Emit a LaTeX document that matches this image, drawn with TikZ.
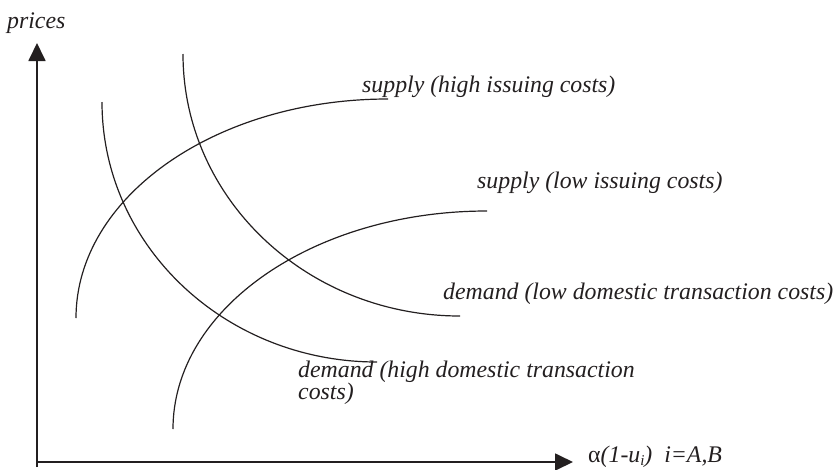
\documentclass[tikz,border=0pt]{standalone}
\usepackage{fontspec}
\setmainfont{Liberation Serif}
\usetikzlibrary{arrows.meta}
\definecolor{ink}{HTML}{231F20}
\begin{document}
\begin{tikzpicture}[x=1pt,y=-1pt,
  curve/.style={draw=ink,line width=1.2pt},
  axis/.style={draw=ink,line width=1.8pt,-{Triangle[length=18pt,width=17pt]}},
  lbl/.style={anchor=base west,inner sep=0pt,text=ink,font=\fontsize{23.8}{22}\selectfont\itshape}]
\useasboundingbox (0,0) rectangle (837,469);
% axes
\coordinate (o1) at (37,467);
\coordinate (ytip) at (37,43);
\coordinate (o2) at (36,462);
\coordinate (xtip) at (573,462);
\draw[axis] (o1) -- (ytip);
\draw[axis] (o2) -- (xtip);
% curve end points
\coordinate (sh1) at (76,318);  \coordinate (sh2) at (388,99);
\coordinate (sl1) at (173,429); \coordinate (sl2) at (487,211);
\coordinate (dh1) at (102,102); \coordinate (dh2) at (377,362);
\coordinate (dl1) at (183,54);  \coordinate (dl2) at (460,316);
% supply (high issuing costs)
\draw[curve] (sh1) .. controls (76,197) and (215.7,99) .. (sh2);
% supply (low issuing costs)
\draw[curve] (sl1) .. controls (173,308.5) and (313.6,211) .. (sl2);
% demand (high)
\draw[curve] (dh1) .. controls (102,245.6) and (225.1,362) .. (dh2);
% demand (low)
\draw[curve] (dl1) .. controls (183,198.7) and (307,316) .. (dl2);
% labels
\node[lbl] (lp) at (7,28) {prices};
\node[lbl] (lsh) at (362,92) {supply (high issuing costs)};
\node[lbl] (lsl) at (477,188) {supply (low issuing costs)};
\node[lbl] (ldl) at (443,299) {demand (low domestic transaction costs)};
\node[lbl] (ldh) at (298,377) {\vtop{\hbox{demand (high domestic transaction}\hbox{costs)}}};
\node[lbl] (lx) at (588,462) {{\upshape α}(1-u\raisebox{-3pt}{\fontsize{15}{15}\selectfont i})\ \ i=A,B};
\end{tikzpicture}
\end{document}
